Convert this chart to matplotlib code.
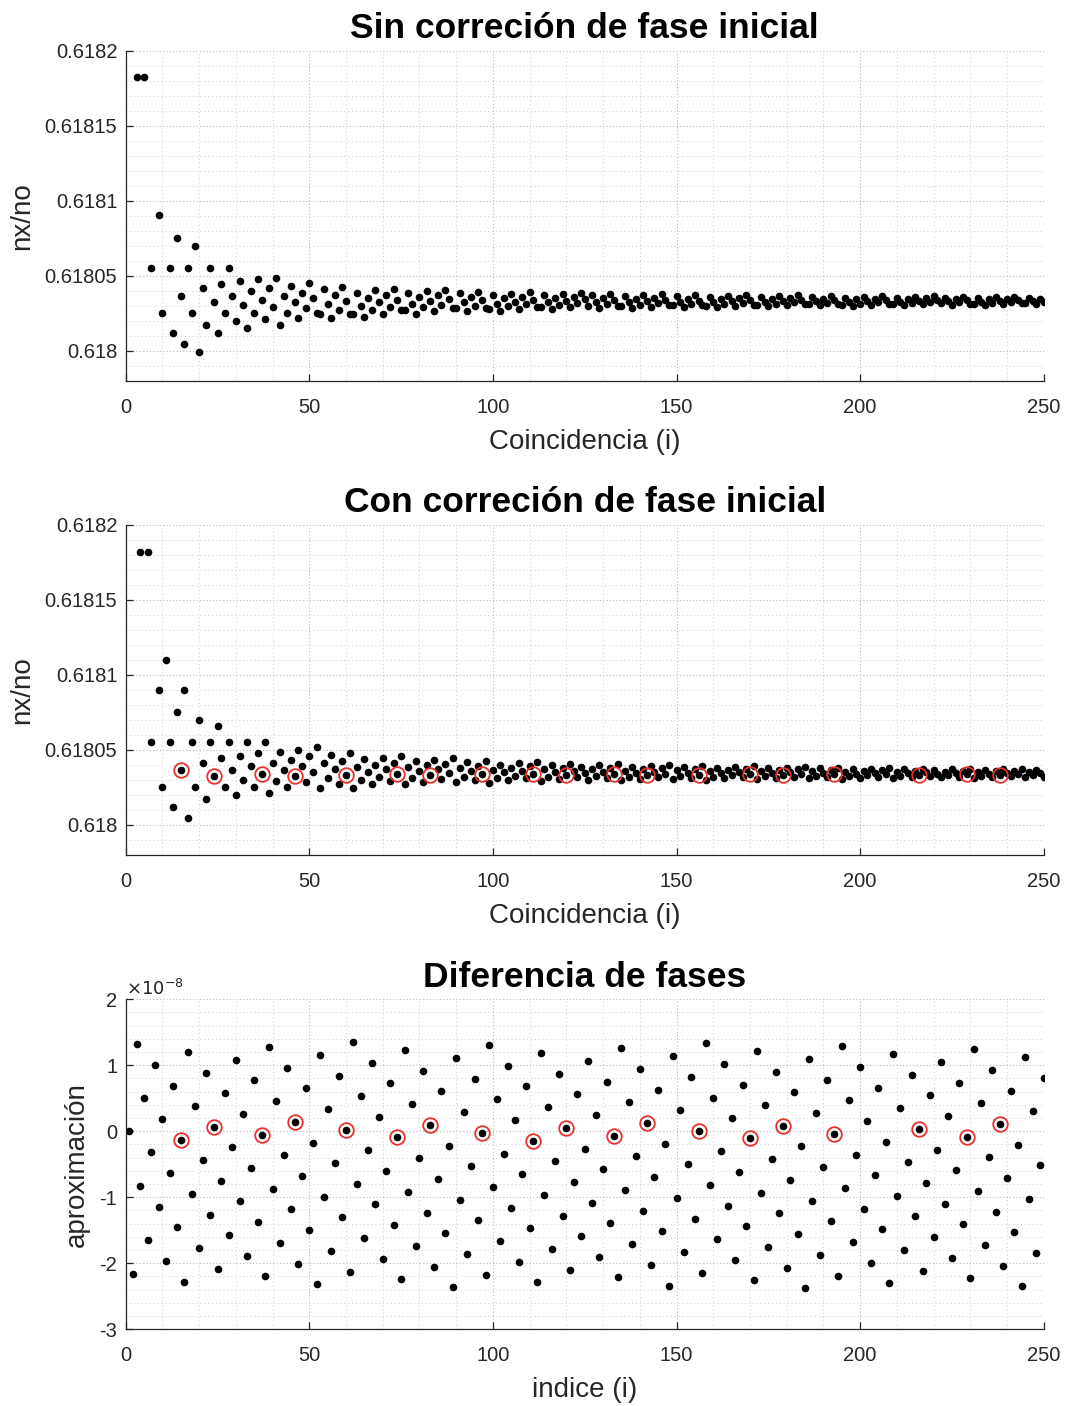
import numpy as np
import matplotlib
matplotlib.use("Agg")
import matplotlib.pyplot as plt
from matplotlib.ticker import MultipleLocator, FuncFormatter

plt.rcParams['font.family'] = ['Liberation Sans', 'DejaVu Sans']

nan = np.nan

# Coincidence index
indice = np.arange(1, 251)

# nx/no without initial-phase correction, as (nx/no - 0.618) in units of 1e-5
sin_correccion = [
    nan, nan, 18.22, nan, 18.22, nan, 5.51, nan, 9.04, 2.52,
    nan, 5.51, 1.18, 7.55, 3.68, 0.45, 5.51, 2.52, 6.97, -0.04,
    4.20, 1.76, 5.51, 3.26, 1.18, 4.49, 2.52, 5.51, 3.68, 1.99,
    4.69, 3.04, 1.54, 3.97, 2.52, 4.80, 3.42, 2.12, 4.20, 2.93,
    4.89, 1.72, 3.68, 2.52, 4.33, 3.26, 2.19, 3.86, 2.86, 4.52,
    3.50, 2.50, 2.46, 4.11, 3.11, 2.19, 3.71, 2.76, 4.27, 3.34,
    2.49, 2.47, 3.88, 3.02, 2.23, 3.54, 2.73, 4.03, 3.23, 2.49,
    3.71, 2.95, 4.16, 3.41, 2.72, 2.70, 3.85, 3.15, 2.49, 3.57,
    2.90, 3.98, 3.31, 2.69, 3.71, 3.07, 4.09, 3.46, 2.88, 2.85,
    3.83, 3.23, 2.67, 3.59, 3.02, 3.94, 3.37, 2.84, 2.82, 3.70,
    3.16, 2.66, 3.50, 2.97, 3.81, 3.29, 2.81, 3.61, 3.10, 3.91,
    3.41, 2.95, 2.93, 3.71, 3.23, 2.78, 3.52, 3.06, 3.80, 3.34,
    2.91, 3.62, 3.17, 3.89, 3.45, 3.01, 3.71, 3.28, 2.88, 3.54,
    3.12, 3.79, 3.38, 2.99, 2.98, 3.63, 3.23, 2.85, 3.47, 3.08,
    3.71, 3.32, 2.96, 3.56, 3.18, 3.79, 3.41, 3.06, 3.05, 3.64,
    3.27, 2.93, 3.49, 3.14, 3.71, 3.36, 3.03, 3.01, 3.57, 3.23,
    2.91, 3.44, 3.10, 3.64, 3.31, 3.00, 3.51, 3.19, 3.71, 3.39,
    3.08, 3.07, 3.58, 3.27, 2.97, 3.46, 3.15, 3.65, 3.34, 3.05,
    3.53, 3.23, 3.71, 3.41, 3.13, 3.12, 3.59, 3.30, 3.03, 3.48,
    3.19, 3.65, 3.37, 3.10, 3.09, 3.54, 3.26, 3.00, 3.43, 3.16,
    3.60, 3.33, 3.07, 3.49, 3.23, 3.66, 3.39, 3.14, 3.13, 3.55,
    3.29, 3.05, 3.45, 3.20, 3.61, 3.35, 3.11, 3.51, 3.26, 3.66,
    3.41, 3.17, 3.56, 3.32, 3.09, 3.47, 3.23, 3.61, 3.37, 3.15,
    3.14, 3.52, 3.29, 3.06, 3.43, 3.20, 3.57, 3.34, 3.12, 3.48,
    3.26, 3.62, 3.40, 3.18, 3.17, 3.53, 3.31, 3.10, 3.44, 3.23,
]

# nx/no with initial-phase correction, same units
con_correccion = [
    nan, nan, nan, 18.18, nan, 18.18, 5.52, nan, 9.02, 2.54,
    11.00, 5.52, 1.18, 7.55, 3.65, 9.02, 0.44, 5.52, 2.54, 6.97,
    4.16, 1.76, 5.52, 3.25, 6.62, 4.45, 2.54, 5.52, 3.65, 1.98,
    4.63, 3.03, 5.52, 3.96, 2.54, 4.79, 3.41, 5.52, 2.11, 4.16,
    2.92, 4.88, 3.65, 2.54, 4.34, 3.25, 4.97, 3.94, 2.85, 4.59,
    3.50, 5.19, 2.46, 4.11, 3.11, 4.69, 3.71, 2.76, 4.27, 3.34,
    4.79, 2.47, 3.88, 3.02, 4.38, 3.54, 2.73, 4.03, 3.23, 4.49,
    3.71, 2.95, 4.16, 3.41, 4.59, 2.70, 3.85, 3.15, 4.26, 3.57,
    2.90, 3.98, 3.31, 4.36, 3.71, 3.07, 4.09, 3.46, 4.45, 2.85,
    3.83, 3.23, 4.18, 3.59, 3.02, 3.94, 3.37, 4.27, 2.82, 3.70,
    3.16, 4.03, 3.50, 2.97, 3.81, 3.29, 4.12, 3.61, 3.10, 3.91,
    3.41, 4.20, 2.93, 3.71, 3.23, 3.99, 3.52, 3.06, 3.80, 3.34,
    4.07, 3.62, 3.17, 3.89, 3.45, 3.01, 3.71, 3.28, 3.97, 3.54,
    3.12, 3.79, 3.38, 4.04, 2.98, 3.63, 3.23, 3.87, 3.47, 3.08,
    3.71, 3.32, 3.94, 3.56, 3.18, 3.79, 3.41, 4.01, 3.05, 3.64,
    3.27, 3.85, 3.49, 3.14, 3.71, 3.36, 3.92, 3.01, 3.57, 3.23,
    3.78, 3.44, 3.10, 3.64, 3.31, 3.84, 3.51, 3.19, 3.71, 3.39,
    3.90, 3.07, 3.58, 3.27, 3.77, 3.46, 3.15, 3.65, 3.34, 3.83,
    3.53, 3.23, 3.71, 3.41, 3.89, 3.12, 3.59, 3.30, 3.77, 3.48,
    3.19, 3.65, 3.37, 3.82, 3.09, 3.54, 3.26, 3.71, 3.43, 3.16,
    3.60, 3.33, 3.76, 3.49, 3.23, 3.66, 3.39, 3.81, 3.13, 3.55,
    3.29, 3.71, 3.45, 3.20, 3.61, 3.35, 3.76, 3.51, 3.26, 3.66,
    3.41, 3.17, 3.56, 3.32, 3.71, 3.47, 3.23, 3.61, 3.37, 3.76,
    3.14, 3.52, 3.29, 3.66, 3.43, 3.20, 3.57, 3.34, 3.71, 3.48,
    3.26, 3.62, 3.40, 3.75, 3.17, 3.53, 3.31, 3.66, 3.44, 3.23,
]

# Phase difference, units of 1e-8
diferencia = [
    0.000, -2.157, 1.323, -0.824, 0.500, -1.642, -0.319, 1.010, -1.142, 0.186,
    -1.960, -0.632, 0.692, -1.455, -0.127, -2.278, 1.202, -0.945, 0.378, -1.768,
    -0.440, 0.888, -1.263, 0.070, -2.081, -0.753, 0.575, -1.576, -0.243, 1.085,
    -1.061, 0.262, -1.884, -0.556, 0.772, -1.374, -0.051, -2.197, 1.277, -0.869,
    0.459, -1.687, -0.364, 0.964, -1.182, 0.141, -2.005, -0.677, 0.651, -1.496,
    -0.173, -2.319, 1.161, -0.991, 0.338, -1.814, -0.486, 0.843, -1.304, 0.024,
    -2.127, 1.348, -0.794, 0.529, -1.622, -0.289, 1.034, -1.107, 0.216, -1.930,
    -0.602, 0.726, -1.420, -0.092, -2.243, 1.231, -0.920, 0.408, -1.733, -0.410,
    0.918, -1.233, 0.095, -2.051, -0.723, 0.605, -1.546, -0.218, -2.365, 1.115,
    -1.041, 0.292, -1.859, -0.526, 0.797, -1.349, -0.026, -2.178, 1.307, -0.839,
    0.484, -1.662, -0.339, 0.994, -1.157, 0.171, -1.981, -0.647, 0.681, -1.471,
    -0.142, -2.289, 1.186, -0.960, 0.363, -1.779, -0.455, 0.873, -1.279, 0.055,
    -2.097, -0.769, 0.560, -1.592, -0.263, 1.065, -1.082, 0.247, -1.905, -0.577,
    0.752, -1.395, -0.067, -2.213, 1.257, -0.890, 0.439, -1.708, -0.380, 0.944,
    -1.203, 0.125, -2.026, -0.698, 0.630, -1.516, -0.188, -2.339, 1.141, -1.006,
    0.322, -1.829, -0.501, 0.827, -1.324, 0.004, -2.142, 1.332, -0.809, 0.509,
    -1.637, -0.304, 1.024, -1.127, 0.201, -1.945, -0.622, 0.706, -1.440, -0.107,
    -2.258, 1.211, -0.935, 0.393, -1.753, -0.425, 0.903, -1.243, 0.080, -2.066,
    -0.743, 0.590, -1.561, -0.228, -2.380, 1.095, -1.051, 0.277, -1.875, -0.541,
    0.777, -1.365, -0.036, -2.188, 1.292, -0.854, 0.469, -1.678, -0.354, 0.979,
    -1.173, 0.156, -1.991, -0.662, 0.661, -1.486, -0.157, -2.304, 1.171, -0.976,
    0.348, -1.794, -0.471, 0.853, -1.289, 0.034, -2.112, -0.784, 0.545, -1.602,
    -0.279, 1.050, -1.097, 0.226, -1.915, -0.592, 0.737, -1.405, -0.082, -2.228,
    1.242, -0.905, 0.423, -1.728, -0.395, 0.928, -1.218, 0.110, -2.041, -0.713,
    0.615, -1.526, -0.208, -2.349, 1.120, -1.021, 0.302, -1.844, -0.516, 0.812,
]

# Coincidences where the phase difference is closest to zero
seleccionados = [15, 24, 37, 46, 60, 74, 83, 97, 111, 120,
                 133, 142, 156, 170, 179, 193, 216, 229, 238]

W, H = 1065, 1406
fig = plt.figure(figsize=(W / 100, H / 100), dpi=100)

AX_COLOR = '#262626'
TICK_FS = 14.5
LABEL_FS = 20
TITLE_FS = 25.5


def make_axes(top, bottom):
    ax = fig.add_axes([125.7 / W, 1 - bottom / H, 918 / W, (bottom - top) / H])
    for s in ('top', 'right'):
        ax.spines[s].set_visible(False)
    for s in ('left', 'bottom'):
        ax.spines[s].set_color(AX_COLOR)
        ax.spines[s].set_linewidth(0.9)
    ax.tick_params(which='major', direction='in', length=5, width=0.9,
                   colors=AX_COLOR, labelsize=TICK_FS)
    ax.tick_params(axis='x', which='major', pad=12)
    ax.tick_params(axis='y', which='major', pad=6)
    ax.tick_params(which='minor', direction='in', length=0)
    ax.set_xlim(0, 250)
    ax.xaxis.set_major_locator(MultipleLocator(50))
    ax.xaxis.set_minor_locator(MultipleLocator(10))
    ax.grid(which='major', linestyle=(0, (1, 2)), color='#b8b8b8', linewidth=0.8)
    ax.grid(which='minor', linestyle=(0, (1, 3)), color='#cdcdcd', linewidth=0.7)
    ax.set_axisbelow(True)
    return ax


def decorate(ax, title, xlabel, ylabel):
    ax.set_title(title, fontsize=TITLE_FS, fontweight='bold', pad=9)
    ax.set_xlabel(xlabel, fontsize=LABEL_FS, color=AX_COLOR, labelpad=9)
    ax.set_ylabel(ylabel, fontsize=LABEL_FS, color=AX_COLOR, labelpad=7)


sel = np.array(seleccionados) - 1
x = indice
fmt = FuncFormatter(lambda v, p: ('%g' % round(v, 6)))
DOT = dict(color='black', ms=5.5, mec='none', ls='none', marker='o')
RING = dict(mfc='none', mec='#e8302a', ms=10.5, mew=1.3, ls='none', marker='o')

# Panel 1
v1 = 0.618 + np.array(sin_correccion) * 1e-5
ax1 = make_axes(50.7, 381)
ax1.plot(x, v1, **DOT)
ax1.set_ylim(0.61798, 0.6182)
ax1.yaxis.set_major_locator(MultipleLocator(5e-5))
ax1.yaxis.set_minor_locator(MultipleLocator(1e-5))
ax1.yaxis.set_major_formatter(fmt)
decorate(ax1, 'Sin correción de fase inicial', 'Coincidencia (i)', 'nx/no')

# Panel 2
v2 = 0.618 + np.array(con_correccion) * 1e-5
ax2 = make_axes(525, 855)
ax2.plot(x, v2, **DOT)
ax2.plot(x[sel], v2[sel], **RING)
ax2.set_ylim(0.61798, 0.6182)
ax2.yaxis.set_major_locator(MultipleLocator(5e-5))
ax2.yaxis.set_minor_locator(MultipleLocator(1e-5))
ax2.yaxis.set_major_formatter(fmt)
decorate(ax2, 'Con correción de fase inicial', 'Coincidencia (i)', 'nx/no')

# Panel 3
v3 = np.array(diferencia) * 1e-8
ax3 = make_axes(999.3, 1329.3)
ax3.plot(x, v3, **DOT)
ax3.plot(x[sel], v3[sel], **RING)
ax3.set_ylim(-3e-8, 2e-8)
ax3.yaxis.set_major_locator(MultipleLocator(1e-8))
ax3.yaxis.set_minor_locator(MultipleLocator(0.2e-8))
ax3.yaxis.set_major_formatter(FuncFormatter(lambda v, p: '%d' % round(v / 1e-8)))
ax3.text(0.0, 1.0, r'$\times10^{-8}$', transform=ax3.transAxes, fontsize=13,
         color=AX_COLOR, ha='left', va='bottom')
decorate(ax3, 'Diferencia de fases', 'indice (i)', 'aproximación')

fig.savefig('out.png', dpi=100)
